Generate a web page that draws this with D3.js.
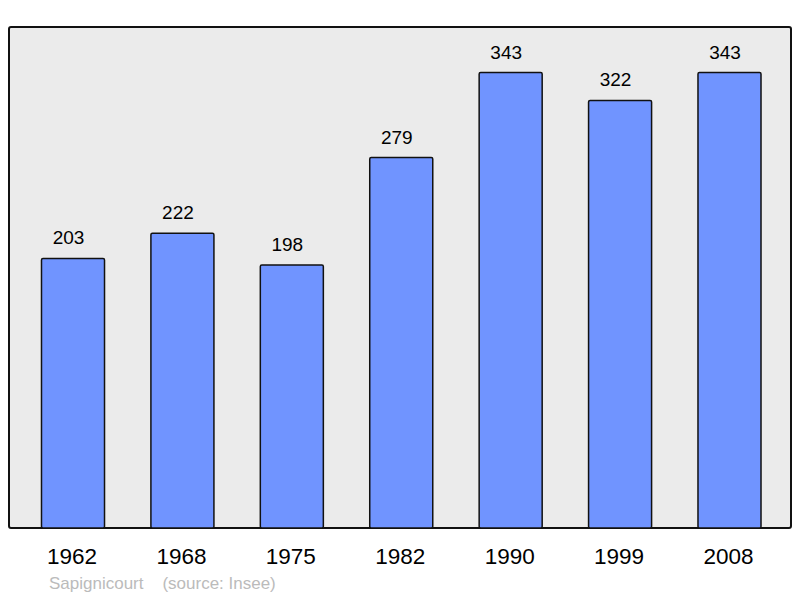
<!DOCTYPE html>
<html>
<head>
<meta charset="utf-8">
<script src="https://cdn.jsdelivr.net/npm/d3@7"></script>
<style>
  body { margin: 0; background: #fff; }
  svg { display: block; font-family: "Liberation Sans", Arial, sans-serif; }
</style>
</head>
<body>
<div id="chart"></div>
<script>
const years = ["1962", "1968", "1975", "1982", "1990", "1999", "2008"];
const population = [203, 222, 198, 279, 343, 322, 343];
const commune = "Sapignicourt";
const source = "(source: Insee)";

const width = 800, height = 598;
const frame = { left: 9, top: 27, right: 791, bottom: 528 };

const svg = d3.select("#chart").append("svg")
    .attr("width", width)
    .attr("height", height);

// Plot background
svg.append("rect")
    .attr("x", frame.left)
    .attr("y", frame.top)
    .attr("width", frame.right - frame.left)
    .attr("height", frame.bottom - frame.top)
    .attr("rx", 2)
    .attr("fill", "#ebebeb")
    .attr("stroke", "#111")
    .attr("stroke-width", 2);

const x = d3.scaleBand()
    .domain(years)
    .range([18.3, 784.2])
    .paddingInner(0.424)
    .paddingOuter(0.212);

const y = d3.scaleLinear()
    .domain([0, d3.max(population) * 1.1])
    .range([frame.bottom, frame.top]);

const data = years.map((yr, i) => ({ year: yr, value: population[i] }));

// Bars
svg.append("g").selectAll("rect")
    .data(data)
    .join("rect")
    .attr("x", d => x(d.year))
    .attr("y", d => y(d.value))
    .attr("width", x.bandwidth())
    .attr("height", d => y(0) - y(d.value))
    .attr("rx", 1.5)
    .attr("fill", "#7094ff")
    .attr("stroke", "#111")
    .attr("stroke-width", 1.5);

// Value labels (sit slightly left of the bar centre, as in the original)
svg.append("g").selectAll("text")
    .data(data)
    .join("text")
    .attr("x", d => x(d.year) + x.bandwidth() / 2 - 4.5)
    .attr("y", d => y(d.value) - 14)
    .attr("text-anchor", "middle")
    .attr("font-size", 19)
    .attr("fill", "#000")
    .text(d => d.value);

// Year labels
svg.append("g").selectAll("text")
    .data(years)
    .join("text")
    .attr("x", d => x(d) + x.bandwidth() / 2 - 1)
    .attr("y", 564)
    .attr("text-anchor", "middle")
    .attr("font-size", 22.5)
    .attr("fill", "#000")
    .text(d => d);

// Source note
svg.append("text")
    .attr("x", 49)
    .attr("y", 589)
    .attr("font-size", 17)
    .attr("fill", "#bbbbbb")
    .style("white-space", "pre")
    .text(commune + "    " + source);
</script>
</body>
</html>
